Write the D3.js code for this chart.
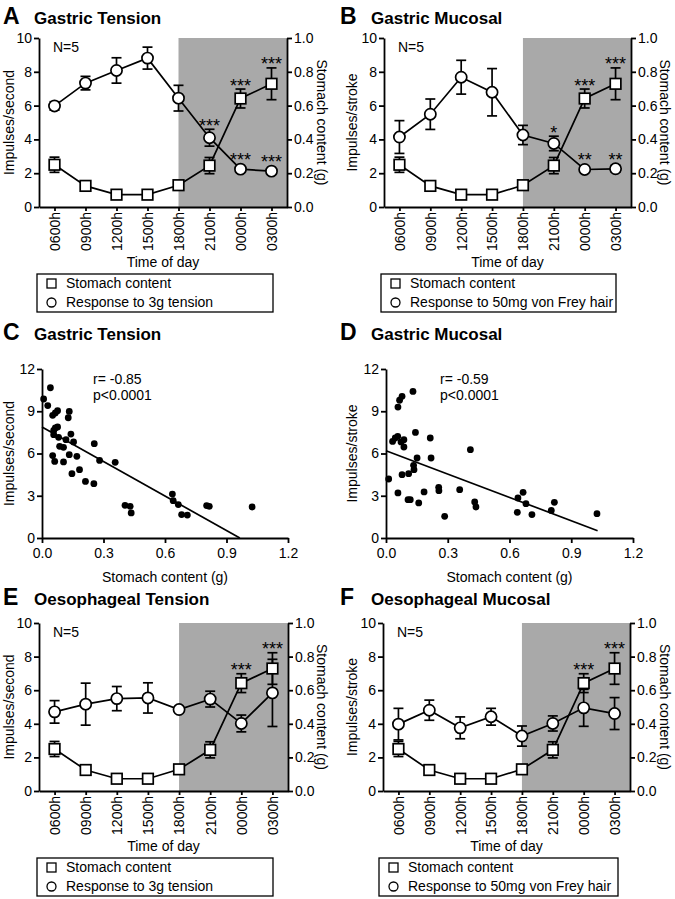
<!DOCTYPE html>
<html><head><meta charset="utf-8">
<script src="https://cdn.jsdelivr.net/npm/d3@7"></script>
<style>
body{margin:0;background:#fff;}
svg{display:block;font-family:"Liberation Sans",Arial,Helvetica,sans-serif;}
</style></head><body>
<svg id="fig" width="675" height="899"></svg>
<script>
// ---------- DATA ----------
const timeLabels = ["0600h","0900h","1200h","1500h","1800h","2100h","0000h","0300h"];
const darkStart = "1800h";
const leftTicks = [0, 2, 4, 6, 8, 10];
const rightTicks = [0, 0.2, 0.4, 0.6, 0.8, 1.0];

const stomachContent = [0.25, 0.125, 0.073, 0.073, 0.129, 0.245, 0.642, 0.729];
const stomachErr     = [0.045, 0.01, 0.008, 0.008, 0.01, 0.048, 0.056, 0.094];
const stomachStars   = ["", "", "", "", "", "", "***", "***"];

const gastricTension      = [5.98, 7.33, 8.08, 8.81, 6.44, 4.10, 2.24, 2.12];
const gastricTensionErr   = [0.25, 0.40, 0.75, 0.65, 0.76, 0.50, 0.15, 0.10];
const gastricTensionStars = ["", "", "", "", "", "***", "***", "***"];

const gastricMucosal      = [4.14, 5.49, 7.68, 6.79, 4.26, 3.76, 2.22, 2.26];
const gastricMucosalErr   = [0.97, 0.90, 1.00, 1.40, 0.57, 0.43, 0.10, 0.20];
const gastricMucosalStars = ["", "", "", "", "", "*", "**", "**"];

const oesTension      = [4.71, 5.17, 5.50, 5.54, 4.85, 5.47, 4.02, 5.84];
const oesTensionErr   = [0.67, 1.25, 0.72, 0.90, 0.10, 0.47, 0.50, 2.00];
const oesTensionStars = ["", "", "", "", "", "", "", ""];

const oesMucosal      = [3.98, 4.81, 3.76, 4.42, 3.27, 4.02, 4.95, 4.61];
const oesMucosalErr   = [0.94, 0.60, 0.65, 0.50, 0.60, 0.45, 1.10, 0.95];
const oesMucosalStars = ["", "", "", "", "", "", "", ""];

const scatterXTicks = [0, 0.3, 0.6, 0.9, 1.2];
const scatterYTicks = [0, 3, 6, 9, 12];

const gtContent = [0.008,0.028,0.041,0.052,0.065,0.076,0.057,0.065,0.076,0.057,0.081,0.086,0.105,0.117,0.133,0.128,0.141,0.154,0.052,0.062,0.105,0.133,0.146,0.183,0.170,0.212,0.255,0.253,0.281,0.357,0.405,0.430,0.435,0.636,0.640,0.665,0.681,0.709,0.803,0.816,1.025];
const gtImpulses = [9.87,9.40,10.67,8.71,8.88,9.04,7.64,7.81,7.88,7.34,7.15,6.51,6.44,6.98,8.99,8.54,7.38,6.82,5.85,5.44,5.40,5.92,4.57,4.85,5.80,4.02,6.70,3.86,5.51,5.37,2.32,2.25,1.78,3.12,2.65,2.37,1.66,1.63,2.30,2.25,2.20];
const gtFit = [[0, 7.88], [0.965, 0]];

const gmContent = [0.013,0.032,0.045,0.057,0.073,0.087,0.087,0.058,0.066,0.078,0.131,0.143,0.215,0.151,0.219,0.134,0.136,0.110,0.078,0.058,0.107,0.118,0.159,0.185,0.256,0.257,0.285,0.358,0.410,0.431,0.437,0.638,0.641,0.666,0.680,0.709,0.803,0.818,1.025];
const gmImpulses = [4.19,6.86,7.10,7.22,6.82,6.98,6.46,9.30,9.78,10.06,10.41,7.50,7.10,5.68,5.68,5.16,4.85,4.57,4.50,3.20,2.72,2.72,2.49,3.27,3.60,3.36,1.54,3.43,6.27,2.56,2.20,1.82,2.84,3.24,2.44,1.66,1.96,2.53,1.73];
const gmFit = [[0, 6.2], [1.028, 0.52]];

// ---------- DRAWING ----------
const svg = d3.select("#fig");
const AX = 1.8;

function styleAxis(sel, fs) {
  sel.selectAll("path, line").attr("stroke", "#000").attr("stroke-width", AX);
  sel.selectAll("text").attr("fill", "#000").style("font-size", fs + "px");
}

function title(letter, text, x, y) {
  svg.append("text").attr("x", x).attr("y", y).attr("font-weight", "bold")
    .style("font-size", "23px").text(letter);
  svg.append("text").attr("x", x + 31).attr("y", y).attr("font-weight", "bold")
    .style("font-size", "17px").text(text);
}

function vLabel(text, x, y, rot) {
  svg.append("text").attr("transform", `translate(${x},${y}) rotate(${rot})`)
    .attr("text-anchor", "middle").attr("dominant-baseline", "central")
    .style("font-size", "14px").text(text);
}

function drawSeries(g, x, y, vals, errs, stars, shape) {
  const line = d3.line().x((d, i) => x(timeLabels[i])).y(d => y(d));
  g.append("path").datum(vals).attr("d", line).attr("fill", "none")
    .attr("stroke", "#000").attr("stroke-width", 1.7);
  const pts = vals.map((v, i) => ({v, e: errs[i], s: stars[i], lab: timeLabels[i]}));
  const eb = g.append("g");
  pts.forEach(p => {
    const cx = x(p.lab), yt = y(p.v + p.e), yb = y(p.v - p.e);
    eb.append("line").attr("x1", cx).attr("x2", cx).attr("y1", yt).attr("y2", yb);
    eb.append("line").attr("x1", cx - 5).attr("x2", cx + 5).attr("y1", yt).attr("y2", yt);
    eb.append("line").attr("x1", cx - 5).attr("x2", cx + 5).attr("y1", yb).attr("y2", yb);
  });
  eb.selectAll("line").attr("stroke", "#000").attr("stroke-width", 1.7);
  pts.forEach(p => {
    const cx = x(p.lab), cy = y(p.v);
    if (shape === "circle") {
      g.append("circle").attr("cx", cx).attr("cy", cy).attr("r", 5.6)
        .attr("fill", "#fff").attr("stroke", "#000").attr("stroke-width", 1.7);
    } else {
      g.append("rect").attr("x", cx - 5.3).attr("y", cy - 5.3).attr("width", 10.6).attr("height", 10.6)
        .attr("fill", "#fff").attr("stroke", "#000").attr("stroke-width", 1.7);
    }
    if (p.s) {
      const top = Math.min(y(p.v + p.e), cy - 5.6);
      g.append("text").attr("x", cx).attr("y", top + 2.5).attr("text-anchor", "middle")
        .style("font-size", "18px").text(p.s);
    }
  });
}

function timePanel(o) {
  const g = svg.append("g");
  const x = d3.scalePoint().domain(timeLabels).range([o.x0, o.x1]).padding(0.5);
  const yL = d3.scaleLinear().domain([0, 10]).range([o.y1, o.y0]);
  const yR = d3.scaleLinear().domain([0, 1]).range([o.y1, o.y0]);
  g.append("rect").attr("x", x(darkStart)).attr("y", o.y0)
    .attr("width", o.x1 - x(darkStart)).attr("height", o.y1 - o.y0).attr("fill", "#a9a9a9");

  const gl = g.append("g").attr("transform", `translate(${o.x0},0)`)
    .call(d3.axisLeft(yL).tickValues(leftTicks).tickSize(5).tickSizeOuter(0).tickPadding(2));
  styleAxis(gl, 14);
  const gr = g.append("g").attr("transform", `translate(${o.x1},0)`)
    .call(d3.axisRight(yR).tickValues(rightTicks).tickFormat(d3.format(".1f")).tickSize(5).tickSizeOuter(0).tickPadding(2));
  styleAxis(gr, 14);
  const gb = g.append("g").attr("transform", `translate(0,${o.y1})`)
    .call(d3.axisBottom(x).tickSize(4).tickSizeOuter(0));
  styleAxis(gb, 14);
  gb.selectAll("text").attr("y", 0).attr("x", -5).attr("dy", "0.35em")
    .attr("transform", "rotate(-90)").style("text-anchor", "end");

  drawSeries(g, x, yL, o.resp, o.respErr, o.respStars, "circle");
  drawSeries(g, x, yR, stomachContent, stomachErr, stomachStars, "square");

  g.append("text").attr("x", o.x0 + 14).attr("y", o.y0 + 14).style("font-size", "14px").text("N=5");

  title(o.letter, o.title, o.tx, o.ty);
  vLabel(o.ylabel, o.lx, (o.y0 + o.y1) / 2, -90);
  vLabel("Stomach content (g)", o.rx, (o.y0 + o.y1) / 2, 90);
  svg.append("text").attr("x", (o.x0 + o.x1) / 2).attr("y", o.y1 + 60).attr("text-anchor", "middle")
    .style("font-size", "14px").text("Time of day");

  // legend
  const lg = svg.append("g").attr("transform", `translate(${o.lgx},${o.lgy})`);
  lg.append("rect").attr("width", o.lgw).attr("height", 38).attr("fill", "#fff")
    .attr("stroke", "#000").attr("stroke-width", 1.3);
  lg.append("rect").attr("x", 10).attr("y", 5).attr("width", 9).attr("height", 9)
    .attr("fill", "#fff").attr("stroke", "#000").attr("stroke-width", 1.3);
  lg.append("circle").attr("cx", 14.5).attr("cy", 28.5).attr("r", 4.5)
    .attr("fill", "#fff").attr("stroke", "#000").attr("stroke-width", 1.3);
  lg.append("text").attr("x", 29).attr("y", 9.5).attr("dy", "0.35em").style("font-size", "14px").text("Stomach content");
  lg.append("text").attr("x", 29).attr("y", 28.5).attr("dy", "0.35em").style("font-size", "14px").text(o.legend);
}

function scatterPanel(o) {
  const g = svg.append("g");
  const x = d3.scaleLinear().domain([0, 1.2]).range([o.x0, o.x1]);
  const y = d3.scaleLinear().domain([0, 12]).range([o.y1, o.y0]);
  const gl = g.append("g").attr("transform", `translate(${o.x0},0)`)
    .call(d3.axisLeft(y).tickValues(scatterYTicks).tickSize(5).tickSizeOuter(0).tickPadding(2));
  styleAxis(gl, 14);
  const gb = g.append("g").attr("transform", `translate(0,${o.y1})`)
    .call(d3.axisBottom(x).tickValues(scatterXTicks).tickFormat(d3.format(".1f")).tickSize(5).tickSizeOuter(0).tickPadding(5));
  styleAxis(gb, 14);
  g.append("path").datum(o.fit)
    .attr("d", d3.line().x(d => x(d[0])).y(d => y(d[1])))
    .attr("stroke", "#000").attr("stroke-width", 1.7).attr("fill", "none");
  g.selectAll("circle.pt").data(o.xs).enter().append("circle")
    .attr("cx", d => x(d)).attr("cy", (d, i) => y(o.ys[i])).attr("r", 3.4).attr("fill", "#000");
  g.append("text").attr("x", o.x0 + o.statDx).attr("y", o.y0 + 15).style("font-size", "14px").text(o.r);
  g.append("text").attr("x", o.x0 + o.statDx).attr("y", o.y0 + 31).style("font-size", "14px").text("p<0.0001");
  title(o.letter, o.title, o.tx, o.ty);
  vLabel(o.ylabel, o.lx, (o.y0 + o.y1) / 2, -90);
  svg.append("text").attr("x", (o.x0 + o.x1) / 2).attr("y", o.y1 + 44).attr("text-anchor", "middle")
    .style("font-size", "14px").text("Stomach content (g)");
}

timePanel({letter: "A", title: "Gastric Tension", tx: 3, ty: 24, x0: 39, x1: 287, y0: 38, y1: 207,
  resp: gastricTension, respErr: gastricTensionErr, respStars: gastricTensionStars,
  ylabel: "Impulses/second", lx: 9, rx: 322, lgx: 37, lgy: 274, lgw: 236, legend: "Response to 3g tension"});
timePanel({letter: "B", title: "Gastric Mucosal", tx: 340, ty: 24, x0: 384, x1: 631, y0: 38, y1: 207,
  resp: gastricMucosal, respErr: gastricMucosalErr, respStars: gastricMucosalStars,
  ylabel: "Impulses/stroke", lx: 352, rx: 665, lgx: 381, lgy: 274, lgw: 235, legend: "Response to 50mg von Frey hair"});
scatterPanel({letter: "C", title: "Gastric Tension", tx: 3, ty: 340, x0: 42, x1: 288, y0: 369, y1: 538,
  xs: gtContent, ys: gtImpulses, fit: gtFit, r: "r= -0.85", statDx: 51, ylabel: "Impulses/second", lx: 9});
scatterPanel({letter: "D", title: "Gastric Mucosal", tx: 340, ty: 340, x0: 386, x1: 633, y0: 369, y1: 538,
  xs: gmContent, ys: gmImpulses, fit: gmFit, r: "r= -0.59", statDx: 54, ylabel: "Impulses/stroke", lx: 352});
timePanel({letter: "E", title: "Oesophageal Tension", tx: 3, ty: 605, x0: 39, x1: 288, y0: 623, y1: 791,
  resp: oesTension, respErr: oesTensionErr, respStars: oesTensionStars,
  ylabel: "Impulses/second", lx: 9, rx: 322, lgx: 37, lgy: 858, lgw: 236, legend: "Response to 3g tension"});
timePanel({letter: "F", title: "Oesophageal Mucosal", tx: 340, ty: 605, x0: 383, x1: 630, y0: 623, y1: 791,
  resp: oesMucosal, respErr: oesMucosalErr, respStars: oesMucosalStars,
  ylabel: "Impulses/stroke", lx: 352, rx: 665, lgx: 379, lgy: 858, lgw: 239, legend: "Response to 50mg von Frey hair"});
</script>
</body></html>
